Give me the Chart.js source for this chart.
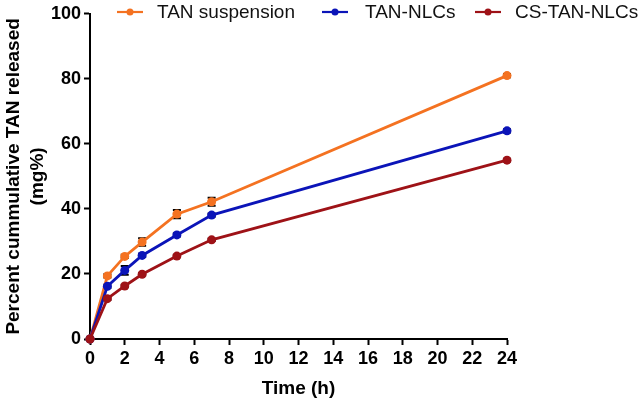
<!DOCTYPE html>
<html>
<head>
<meta charset="utf-8">
<script src="https://cdn.jsdelivr.net/npm/chart.js@4"></script>
<style>
  html, body { margin: 0; padding: 0; background: #fff; }
  #wrap { width: 644px; height: 402px; }
</style>
</head>
<body>
<div id="wrap"><canvas id="chart" width="644" height="402"></canvas></div>
<script>
// time points (h)
const times = [0, 1, 2, 3, 5, 7, 24];

// cumulative release (mg%)
const suspension = [0, 19.4, 25.4, 29.8, 38.4, 42.2, 81];
const nlcs = [0, 16.2, 21.1, 25.7, 32.0, 38.1, 64];
const csNlcs = [0, 12.4, 16.3, 19.9, 25.5, 30.5, 55];

// SD (mg%)
const suspensionErr = [0, 0.5, 0.5, 1.15, 1.25, 1.2, 0.5];
const nlcsErr = [0, 0.5, 1.35, 0.5, 0.5, 0.5, 0.5];
const csNlcsErr = [0, 0.4, 0.4, 0.4, 0.4, 0.4, 0.4];

const seriesNames = ['TAN suspension', 'TAN-NLCs', 'CS-TAN-NLCs'];
const colors = ['#f47221', '#0b14b8', '#9e1217'];

const xTicks = [0, 2, 4, 6, 8, 10, 12, 14, 16, 18, 20, 22, 24];
const yTicks = [0, 20, 40, 60, 80, 100];

const FONT = 'Liberation Sans, Arial, Helvetica, sans-serif';

function toPoints(vals) {
  return times.map((t, i) => ({ x: t, y: vals[i] }));
}

const allVals = [suspension, nlcs, csNlcs];
const allErr = [suspensionErr, nlcsErr, csNlcsErr];

// error bars drawn under the markers
const errorBars = {
  id: 'errorBars',
  beforeDatasetsDraw(chart) {
    const { ctx, scales } = chart;
    ctx.save();
    ctx.strokeStyle = '#000';
    ctx.lineWidth = 2;
    allVals.forEach((vals, d) => {
      vals.forEach((v, i) => {
        const e = allErr[d][i];
        if (!e) return;
        const px = scales.x.getPixelForValue(times[i]);
        const top = scales.y.getPixelForValue(v + e);
        const bot = scales.y.getPixelForValue(v - e);
        ctx.beginPath();
        ctx.moveTo(px, top); ctx.lineTo(px, bot);
        ctx.moveTo(px - 4, top); ctx.lineTo(px + 4, top);
        ctx.moveTo(px - 4, bot); ctx.lineTo(px + 4, bot);
        ctx.stroke();
      });
    });
    ctx.restore();
  }
};

// legend drawn as line + dot, sitting over the top of the plot
const lineLegend = {
  id: 'lineLegend',
  afterDraw(chart) {
    const { ctx } = chart;
    const lineStarts = [117, 322, 475];
    const textStarts = [157, 365, 515];
    const y = 12;
    ctx.save();
    ctx.font = '19px ' + FONT;
    ctx.textBaseline = 'middle';
    seriesNames.forEach((name, i) => {
      ctx.strokeStyle = colors[i];
      ctx.fillStyle = colors[i];
      ctx.lineWidth = 2.2;
      ctx.beginPath();
      ctx.moveTo(lineStarts[i], y);
      ctx.lineTo(lineStarts[i] + 26, y);
      ctx.stroke();
      ctx.beginPath();
      ctx.arc(lineStarts[i] + 13, y, 3.5, 0, Math.PI * 2);
      ctx.fill();
      ctx.fillStyle = '#111';
      ctx.fillText(name, textStarts[i], y + 1);
    });
    ctx.restore();
  }
};

const datasets = seriesNames.map((name, i) => ({
  label: name,
  data: toPoints(allVals[i]),
  borderColor: colors[i],
  backgroundColor: colors[i],
  borderWidth: 2.8,
  pointRadius: 4.5,
  pointHoverRadius: 4.5,
  pointBorderWidth: 0,
  tension: 0,
  clip: false,
}));
// orange drawn on top, as in the original
datasets.reverse();

new Chart(document.getElementById('chart'), {
  type: 'line',
  data: { datasets },
  options: {
    responsive: false,
    animation: false,
    events: [],
    layout: { padding: { left: 0, top: 9, right: 137, bottom: 0 } },
    plugins: {
      legend: { display: false },
      tooltip: { enabled: false },
    },
    scales: {
      x: {
        type: 'linear',
        min: 0,
        max: 24,
        afterFit(scale) { scale.height = 63; },
        afterBuildTicks(scale) { scale.ticks = xTicks.map(v => ({ value: v })); },
        grid: { drawOnChartArea: false, drawTicks: true, tickLength: 6, tickWidth: 2, tickColor: '#000' },
        border: { display: true, color: '#000', width: 2 },
        ticks: { color: '#000', padding: 3, maxRotation: 0, font: { family: FONT, size: 18, weight: 'bold' } },
        title: {
          display: true,
          text: 'Time (h)',
          color: '#000',
          padding: { top: 0, bottom: 1 },
          font: { family: FONT, size: 19, weight: 'bold', lineHeight: 1.26 },
        },
      },
      y: {
        min: 0,
        max: 100,
        afterFit(scale) { scale.width = 90; },
        afterBuildTicks(scale) { scale.ticks = yTicks.map(v => ({ value: v })); },
        grid: { drawOnChartArea: false, drawTicks: true, tickLength: 6, tickWidth: 2, tickColor: '#000' },
        border: { display: true, color: '#000', width: 2 },
        ticks: { color: '#000', padding: 3, font: { family: FONT, size: 18, weight: 'bold' } },
        title: {
          display: true,
          text: ['Percent cummulative TAN released', '(mg%)'],
          color: '#000',
          padding: { top: 2, bottom: 0 },
          font: { family: FONT, size: 19, weight: 'bold', lineHeight: 1.26 },
        },
      },
    },
  },
  plugins: [errorBars, lineLegend],
});
</script>
</body>
</html>
